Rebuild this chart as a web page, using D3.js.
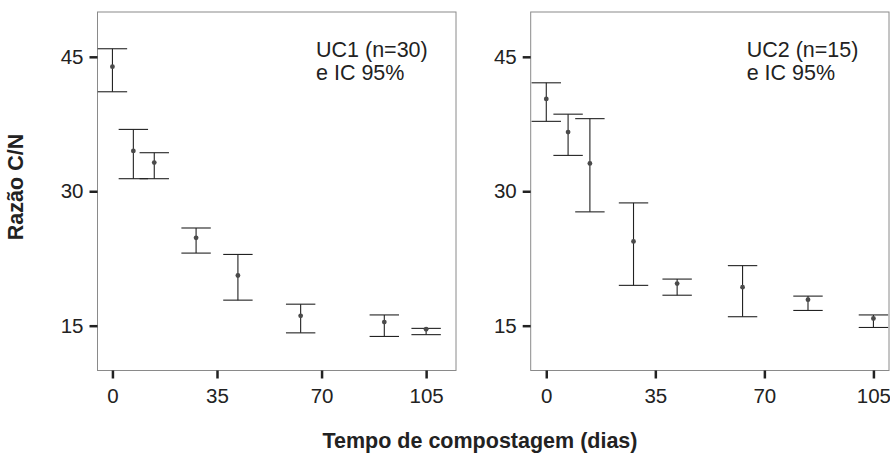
<!DOCTYPE html>
<html>
<head>
<meta charset="utf-8">
<script src="https://cdn.jsdelivr.net/npm/d3@7"></script>
<style>
  body { margin: 0; background: #fff; }
  svg text { font-family: "Liberation Sans", Arial, Helvetica, sans-serif; fill: #222; }
</style>
</head>
<body>
<svg id="chart" width="890" height="453"></svg>
<script>
// UC1 - composting days, mean C/N and 95% CI
const daysUC1 = [0, 7, 14, 28, 42, 63, 91, 105];
const meanUC1 = [43.9, 34.5, 33.2, 24.8, 20.6, 16.1, 15.4, 14.6];
const lowUC1  = [41.1, 31.4, 31.4, 23.1, 17.85, 14.2, 13.8, 14.0];
const highUC1 = [45.9, 36.9, 34.3, 25.9, 22.95, 17.4, 16.2, 14.7];

// UC2
const daysUC2 = [0, 7, 14, 28, 42, 63, 84, 105];
const meanUC2 = [40.3, 36.6, 33.1, 24.4, 19.7, 19.3, 17.9, 15.8];
const lowUC2  = [37.8, 34.0, 27.7, 19.5, 18.4, 16.0, 16.7, 14.8];
const highUC2 = [42.1, 38.6, 38.1, 28.7, 20.2, 21.7, 18.3, 16.2];

const xTicks = [0, 35, 70, 105];
const yTicks = [15, 30, 45];

const panels = [
    { label: ["UC1 (n=30)", "e IC 95%"], days: daysUC1, mean: meanUC1, low: lowUC1, high: highUC1,
      x0: 97.5, x1: 456, xDomain: [-5, 115], labelX: 316 },
    { label: ["UC2 (n=15)", "e IC 95%"], days: daysUC2, mean: meanUC2, low: lowUC2, high: highUC2,
      x0: 530.7, x1: 889, xDomain: [-5, 110], labelX: 746.7 }
];

const svg = d3.select("#chart");
const panelTop = 12, panelBottom = 370.5;
const capHalf = 14.7;

const yScale = d3.scaleLinear().domain([10, 50]).range([panelBottom, panelTop]);

panels.forEach(p => {
    const xScale = d3.scaleLinear().domain(p.xDomain).range([p.x0, p.x1]);
    const g = svg.append("g");

    // panel border
    g.append("rect")
        .attr("x", p.x0).attr("y", panelTop)
        .attr("width", p.x1 - p.x0).attr("height", panelBottom - panelTop)
        .attr("fill", "none").attr("stroke", "#8a8a8a").attr("stroke-width", 1);

    // y axis
    const yAxis = g.append("g")
        .attr("transform", `translate(${p.x0},0)`)
        .call(d3.axisLeft(yScale).tickValues(yTicks).tickSize(8).tickPadding(6));
    yAxis.select(".domain").remove();
    yAxis.selectAll("line").attr("stroke", "#222").attr("stroke-width", 2.5);
    yAxis.selectAll("text").attr("font-size", "20.5px").attr("font-family", null);

    // x axis
    const xAxis = g.append("g")
        .attr("transform", `translate(0,${panelBottom})`)
        .call(d3.axisBottom(xScale).tickValues(xTicks).tickSize(8).tickPadding(10));
    xAxis.select(".domain").remove();
    xAxis.selectAll("line").attr("stroke", "#222").attr("stroke-width", 2.5);
    xAxis.selectAll("text").attr("font-size", "20.5px").attr("font-family", null);

    const rows = p.days.map((d, i) => ({ day: d, mean: p.mean[i], low: p.low[i], high: p.high[i] }));

    const bars = g.selectAll(".bar")
        .data(rows)
        .join("g")
        .attr("class", "bar");

    bars.append("line")
        .attr("x1", d => xScale(d.day)).attr("x2", d => xScale(d.day))
        .attr("y1", d => yScale(d.low)).attr("y2", d => yScale(d.high))
        .attr("stroke", "#222").attr("stroke-width", 1.1);
    bars.append("line")
        .attr("x1", d => xScale(d.day) - capHalf).attr("x2", d => xScale(d.day) + capHalf)
        .attr("y1", d => yScale(d.high)).attr("y2", d => yScale(d.high))
        .attr("stroke", "#222").attr("stroke-width", 1.1);
    bars.append("line")
        .attr("x1", d => xScale(d.day) - capHalf).attr("x2", d => xScale(d.day) + capHalf)
        .attr("y1", d => yScale(d.low)).attr("y2", d => yScale(d.low))
        .attr("stroke", "#222").attr("stroke-width", 1.1);
    bars.append("circle")
        .attr("cx", d => xScale(d.day)).attr("cy", d => yScale(d.mean))
        .attr("r", 2.4).attr("fill", "#4a4a4a");

    // panel label
    g.selectAll(".plabel")
        .data(p.label)
        .join("text")
        .attr("class", "plabel")
        .attr("x", p.labelX)
        .attr("y", (d, i) => 56.7 + i * 23.3)
        .attr("font-size", "21.5px")
        .text(d => d);
});

// axis titles
svg.append("text")
    .attr("x", 480).attr("y", 447.5)
    .attr("text-anchor", "middle")
    .attr("font-size", "21.5px").attr("font-weight", "bold")
    .text("Tempo de compostagem (dias)");

svg.append("text")
    .attr("transform", "translate(22.5,187) rotate(-90)")
    .attr("text-anchor", "middle")
    .attr("font-size", "21.5px").attr("font-weight", "bold")
    .text("Razão C/N");
</script>
</body>
</html>
